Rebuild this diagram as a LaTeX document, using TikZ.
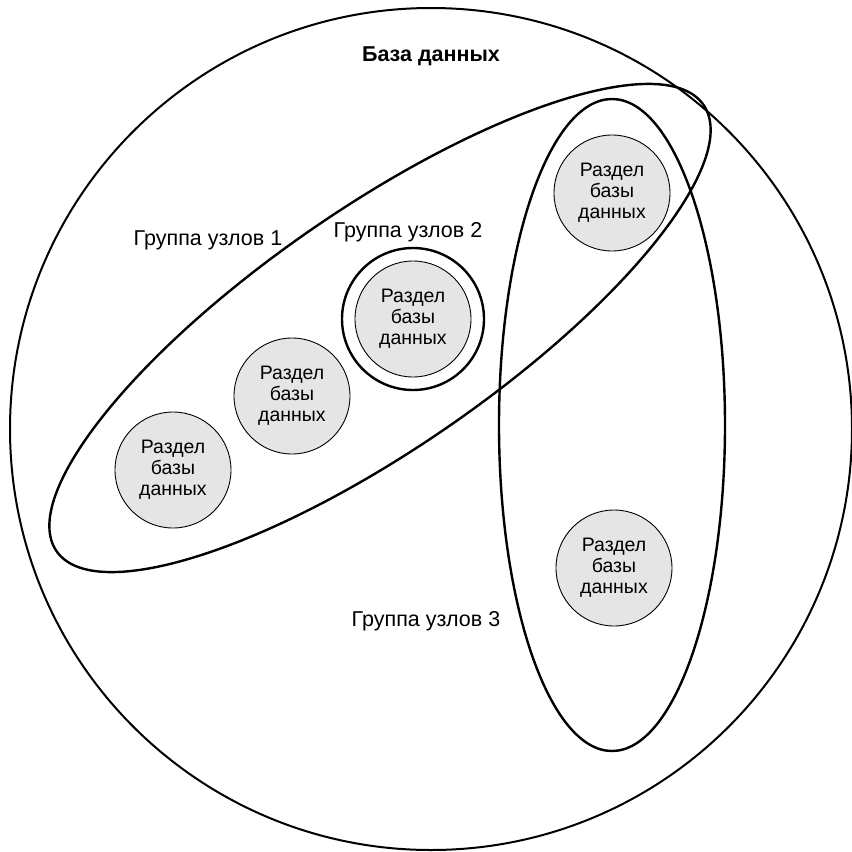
\documentclass[tikz,border=0pt]{standalone}
\usepackage{fontspec}
\setmainfont{Liberation Sans}
\usetikzlibrary{shapes.geometric}
\begin{document}
\begin{tikzpicture}[x=1pt,y=-1pt,
  part/.style={circle, draw=black, line width=0.9pt, fill=black!10, minimum size=116pt, inner sep=0pt, align=center, font=\fontsize{19.5}{21}\selectfont},
  grp/.style={draw=black, line width=2.4pt, inner sep=0pt},
  lbl/.style={font=\fontsize{21.5}{24}\selectfont, inner sep=0pt}]
\useasboundingbox (0,0) rectangle (852,852);
\node[circle, draw=black, line width=2pt, minimum size=842pt, inner sep=0pt] (db) at (431,429) {};
\node[grp, ellipse, minimum width=786pt, minimum height=240pt, rotate=34.6] (g1) at (380,328) {};
\node[grp, ellipse, minimum width=226pt, minimum height=652pt] (g3) at (612,425) {};
\node[grp, circle, minimum size=142pt] (g2) at (413,319) {};
\node[part] (p1) at (173,470) {Раздел\\базы\\данных};
\node[part] (p2) at (292,396) {Раздел\\базы\\данных};
\node[part] (p3) at (413,319) {Раздел\\базы\\данных};
\node[part] (p4) at (612,193) {Раздел\\базы\\данных};
\node[part] (p5) at (614,568) {Раздел\\базы\\данных};
\node[inner sep=0pt, font=\bfseries\fontsize{21.5}{24}\selectfont] (tdb) at (431,56) {База данных};
\node[lbl] (t1) at (208,240) {Группа узлов 1};
\node[lbl] (t2) at (408,232) {Группа узлов 2};
\node[lbl] (t3) at (426,621) {Группа узлов 3};
\end{tikzpicture}
\end{document}
